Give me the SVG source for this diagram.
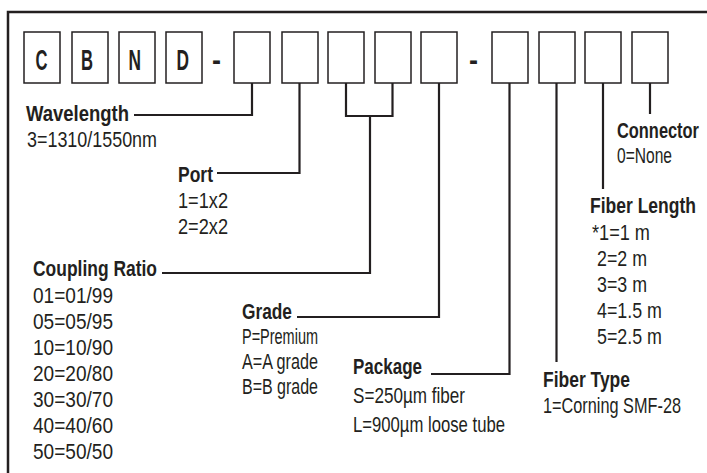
<svg xmlns="http://www.w3.org/2000/svg" width="707" height="473" viewBox="0 0 707 473">
<style>
text{font-family:"Liberation Sans",Arial,sans-serif;fill:#231f20;font-size:22px}
.h{font-weight:bold}
.l{font-weight:bold;font-size:29px}
.box{fill:#fff;stroke:#231f20;stroke-width:1.5}
.c{fill:none;stroke:#231f20;stroke-width:2.2}
</style>
<rect x="0" y="0" width="707" height="473" fill="#fff"/>
<rect x="8" y="12" width="740" height="500" fill="none" stroke="#231f20" stroke-width="2.5"/>
<g id="code">
<rect class="box" x="24" y="32" width="36" height="51"/>
<rect class="box" x="72" y="32" width="36" height="51"/>
<rect class="box" x="119" y="32" width="36" height="51"/>
<rect class="box" x="166" y="32" width="36" height="51"/>
<rect class="box" x="234" y="32" width="36" height="51"/>
<rect class="box" x="282" y="32" width="36" height="51"/>
<rect class="box" x="328" y="32" width="36" height="51"/>
<rect class="box" x="375" y="32" width="36" height="51"/>
<rect class="box" x="421" y="32" width="36" height="51"/>
<rect class="box" x="492" y="32" width="36" height="51"/>
<rect class="box" x="539" y="32" width="36" height="51"/>
<rect class="box" x="585" y="32" width="36" height="51"/>
<rect class="box" x="632" y="32" width="36" height="51"/>
<text class="l" x="35.5" y="70" textLength="12" lengthAdjust="spacingAndGlyphs">C</text>
<text class="l" x="81" y="70" textLength="12" lengthAdjust="spacingAndGlyphs">B</text>
<text class="l" x="128.5" y="70" textLength="12.5" lengthAdjust="spacingAndGlyphs">N</text>
<text class="l" x="176.5" y="70" textLength="12.5" lengthAdjust="spacingAndGlyphs">D</text>
<text class="l" x="212" y="70" textLength="9" lengthAdjust="spacingAndGlyphs">-</text>
<text class="l" x="469" y="70" textLength="9" lengthAdjust="spacingAndGlyphs">-</text>
</g>
<g id="connectors">
<path class="c" d="M252,83V115H134"/>
<path class="c" d="M299.5,83V173H217"/>
<path class="c" d="M346,83V116H392.5V83M370,116V273H162"/>
<path class="c" d="M439,83V317H297"/>
<path class="c" d="M509.5,83V374H431"/>
<path class="c" d="M556.5,83V362"/>
<path class="c" d="M603,83V189"/>
<path class="c" d="M650,83V114"/>
</g>
<g id="wavelength" transform="scale(0.72,1)">
<text class="h" x="36.11" y="121" textLength="143.06" lengthAdjust="spacingAndGlyphs">Wavelength</text>
<text x="37.5" y="147" textLength="180.56" lengthAdjust="spacingAndGlyphs">3=1310/1550nm</text>
</g>
<g id="port" transform="scale(0.72,1)">
<text class="h" x="247.22" y="182" textLength="48.61" lengthAdjust="spacingAndGlyphs">Port</text>
<text x="247.22" y="208" textLength="69.44" lengthAdjust="spacingAndGlyphs">1=1x2</text>
<text x="247.22" y="234" textLength="69.44" lengthAdjust="spacingAndGlyphs">2=2x2</text>
</g>
<g id="coupling" transform="scale(0.72,1)">
<text class="h" x="45.83" y="276" textLength="172.22" lengthAdjust="spacingAndGlyphs">Coupling Ratio</text>
<text x="45.83" y="303" textLength="111.11" lengthAdjust="spacingAndGlyphs">01=01/99</text>
<text x="45.83" y="329" textLength="111.11" lengthAdjust="spacingAndGlyphs">05=05/95</text>
<text x="45.83" y="355" textLength="111.11" lengthAdjust="spacingAndGlyphs">10=10/90</text>
<text x="45.83" y="381" textLength="111.11" lengthAdjust="spacingAndGlyphs">20=20/80</text>
<text x="45.83" y="407" textLength="111.11" lengthAdjust="spacingAndGlyphs">30=30/70</text>
<text x="45.83" y="433" textLength="111.11" lengthAdjust="spacingAndGlyphs">40=40/60</text>
<text x="45.83" y="459" textLength="111.11" lengthAdjust="spacingAndGlyphs">50=50/50</text>
</g>
<g id="grade" transform="scale(0.72,1)">
<text class="h" x="336.11" y="319" textLength="69.44" lengthAdjust="spacingAndGlyphs">Grade</text>
<text x="336.11" y="344" textLength="105.56" lengthAdjust="spacingAndGlyphs">P=Premium</text>
<text x="336.11" y="369" textLength="105.56" lengthAdjust="spacingAndGlyphs">A=A grade</text>
<text x="336.11" y="394" textLength="105.56" lengthAdjust="spacingAndGlyphs">B=B grade</text>
</g>
<g id="package" transform="scale(0.72,1)">
<text class="h" x="490.28" y="374" textLength="95.83" lengthAdjust="spacingAndGlyphs">Package</text>
<text x="490.28" y="403" textLength="155.56" lengthAdjust="spacingAndGlyphs">S=250µm fiber</text>
<text x="490.28" y="432" textLength="211.11" lengthAdjust="spacingAndGlyphs">L=900µm loose tube</text>
</g>
<g id="fibertype" transform="scale(0.72,1)">
<text class="h" x="754.17" y="387" textLength="120.83" lengthAdjust="spacingAndGlyphs">Fiber Type</text>
<text x="754.17" y="413" textLength="191.67" lengthAdjust="spacingAndGlyphs">1=Corning SMF-28</text>
</g>
<g id="fiberlength" transform="scale(0.72,1)">
<text class="h" x="819.44" y="213" textLength="147.22" lengthAdjust="spacingAndGlyphs">Fiber Length</text>
<text x="822.22" y="240" textLength="80.56" lengthAdjust="spacingAndGlyphs">*1=1 m</text>
<text x="829.17" y="266" textLength="69.44" lengthAdjust="spacingAndGlyphs">2=2 m</text>
<text x="829.17" y="292" textLength="69.44" lengthAdjust="spacingAndGlyphs">3=3 m</text>
<text x="829.17" y="318" textLength="90.28" lengthAdjust="spacingAndGlyphs">4=1.5 m</text>
<text x="829.17" y="344" textLength="90.28" lengthAdjust="spacingAndGlyphs">5=2.5 m</text>
</g>
<g id="connector" transform="scale(0.72,1)">
<text class="h" x="856.94" y="138" textLength="113.89" lengthAdjust="spacingAndGlyphs">Connector</text>
<text x="856.94" y="163" textLength="76.39" lengthAdjust="spacingAndGlyphs">0=None</text>
</g>
</svg>
